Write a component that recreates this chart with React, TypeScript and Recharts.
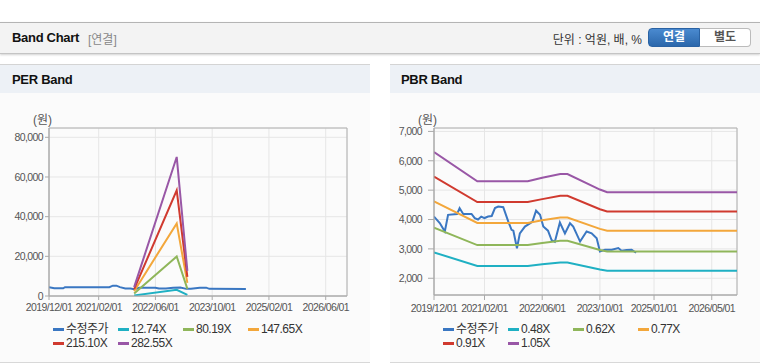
import React from 'react';
import { LineChart, Line, XAxis, YAxis, CartesianGrid, ReferenceArea } from 'recharts';

// months counted from 2019/12/01
const COLORS = ['#3a77c2', '#1fb0c3', '#8fb65a', '#f3a73b', '#d03a2f', '#9957a6'];

const perNames = ['수정주가', '12.74X', '80.19X', '147.65X', '215.10X', '282.55X'];
const pbrNames = ['수정주가', '0.48X', '0.62X', '0.77X', '0.91X', '1.05X'];

const perTickMonths = [0, 14, 30, 46, 62, 78];
const perTickLabels = ['2019/12/01', '2021/02/01', '2022/06/01', '2023/10/01', '2025/02/01', '2026/06/01'];
const pbrTickMonths = [0, 14, 30, 46, 61, 77];
const pbrTickLabels = ['2019/12/01', '2021/02/01', '2022/06/01', '2023/10/01', '2025/01/01', '2026/05/01'];

const perYTicks = [0, 20000, 40000, 60000, 80000];
const pbrYTicks = [2000, 3000, 4000, 5000, 6000, 7000];

// PER chart
const perPriceMonths = [0, 1.5, 4, 4.5, 17, 18, 19, 20, 21.5, 23, 24, 25.5, 30, 31, 33, 35, 37, 38.7, 40, 42.5, 44.3, 45.2, 55.5];
const perPrice = [4400, 3900, 3900, 4450, 4450, 5200, 5200, 4450, 3750, 3750, 3400, 4200, 4200, 3750, 3750, 4200, 4300, 3600, 3700, 4200, 4200, 3600, 3500];
const perBandMonths = [24, 36, 39];
const per1274 = [300, 3160, 570];
const per8019 = [1300, 19900, 3600];
const per14765 = [2400, 36600, 6600];
const per21510 = [3450, 53300, 9700];
const per28255 = [4500, 70100, 12700];

// PBR chart
const pbrPriceMonths = [0, 1.6, 3, 3.9, 6.4, 7.1, 8.1, 10.4, 11.3, 12.2, 13.1, 14, 15, 16, 16.9, 17.8, 19.2, 20.6, 21.5, 22, 23, 23.8, 25.2, 26.6, 27.3, 28.3, 29.4, 30.3, 31.6, 32.6, 33.5, 34.9, 36.3, 37.7, 38.6, 40.5, 42.3, 43.7, 45.1, 46, 47.4, 49.3, 51.1, 52, 53.4, 54.8, 56];
const pbrPrice = [4100, 3880, 3590, 4160, 4190, 4390, 4190, 4190, 4045, 4000, 4100, 4050, 4100, 4120, 4390, 4440, 4420, 3930, 3650, 3620, 3020, 3530, 3760, 3870, 3930, 4300, 4160, 3760, 3620, 3300, 3240, 3900, 3530, 3875, 3760, 3250, 3590, 3530, 3360, 2910, 2970, 2970, 3030, 2940, 2960, 2970, 2870];
const pbrBandMonths = [0, 12, 26, 30, 35, 37, 46, 48, 84];
const pbr048 = [2880, 2420, 2420, 2480, 2535, 2535, 2295, 2255, 2255];
const pbr062 = [3720, 3130, 3130, 3200, 3275, 3275, 2965, 2910, 2910];
const pbr077 = [4620, 3885, 3885, 3975, 4070, 4070, 3680, 3615, 3615];
const pbr091 = [5460, 4595, 4595, 4695, 4810, 4810, 4350, 4275, 4275];
const pbr105 = [6300, 5300, 5300, 5420, 5550, 5550, 5020, 4930, 4930];

const KEYS = ['p', 'b1', 'b2', 'b3', 'b4', 'b5'];

function buildRows(priceMonths: number[], price: number[], bandMonths: number[], bands: number[][]) {
  const map = new Map<number, any>();
  const row = (m: number) => {
    if (!map.has(m)) map.set(m, { m });
    return map.get(m);
  };
  priceMonths.forEach((m, i) => (row(m).p = price[i]));
  bandMonths.forEach((m, i) => bands.forEach((b, j) => (row(m)[KEYS[j + 1]] = b[i])));
  return Array.from(map.values()).sort((a, b) => a.m - b.m);
}

const perRows = buildRows(perPriceMonths, perPrice, perBandMonths, [per1274, per8019, per14765, per21510, per28255]);
const pbrRows = buildRows(pbrPriceMonths, pbrPrice, pbrBandMonths, [pbr048, pbr062, pbr077, pbr091, pbr105]);

const tickFont = "'Liberation Sans', Arial, sans-serif";
const uiFont = "'Liberation Sans', 'Noto Sans CJK KR', sans-serif";

function LegendBox({ names, left }: { names: string[]; left: number }) {
  return (
    <div style={{ position: 'absolute', left, top: 323, width: 270, display: 'flex', flexWrap: 'wrap' }}>
      {names.map((n, i) => (
        <div key={n} style={{ width: 65, height: 13.5, display: 'flex', alignItems: 'center', overflow: 'visible' }}>
          <span style={{ display: 'inline-block', width: 11, height: 3, background: COLORS[i], marginRight: 2 }} />
          <span style={{ fontFamily: "'Liberation Sans', 'Noto Sans CJK KR', sans-serif", fontSize: 12, lineHeight: '13px', letterSpacing: -0.5, color: '#333', whiteSpace: 'nowrap' }}>{n}</span>
        </div>
      ))}
    </div>
  );
}

function BandChart(props: {
  rows: any[]; names: string[]; tickMonths: number[]; tickLabels: string[];
  yTicks: number[]; yDomain: [number, number]; yWidth: number; xHeight: number;
  yTickSize: number; yTickMargin: number; xTickSize: number; xTickMargin: number;
}) {
  const { rows, names, tickMonths, tickLabels, yTicks, yDomain } = props;
  const tick = { fontSize: 10.5, fill: '#555', fontFamily: tickFont, letterSpacing: -0.6 };
  return (
    <LineChart width={370} height={222} data={rows} margin={{ top: 28, right: 23, bottom: 0, left: 0 }}>
      <CartesianGrid stroke="#e6e6e6" />
      <XAxis
        dataKey="m" type="number" domain={[0, 84]} ticks={tickMonths} allowDataOverflow
        tickFormatter={(v: number) => tickLabels[tickMonths.indexOf(v)] ?? ''}
        tick={tick} stroke="#aaa" height={props.xHeight} tickSize={props.xTickSize} tickMargin={props.xTickMargin}
        interval={0}
      />
      <YAxis
        type="number" domain={yDomain} ticks={yTicks} allowDataOverflow
        tickFormatter={(v: number) => v.toLocaleString('en-US')}
        tick={tick} stroke="#aaa" width={props.yWidth} tickSize={props.yTickSize} tickMargin={props.yTickMargin}
        interval={0}
      />
      <ReferenceArea x1={0} x2={84} y1={yDomain[0]} y2={yDomain[1]} fill="none" stroke="#b0b0b0" ifOverflow="visible" />
      {KEYS.map((k, i) => (
        <Line key={k} dataKey={k} name={names[i]} stroke={COLORS[i]} strokeWidth={2} dot={false}
          type="linear" connectNulls isAnimationActive={false} />
      ))}
    </LineChart>
  );
}

export default function App() {
  return (
    <div style={{ position: 'absolute', left: 0, top: 0, width: 760, height: 364, overflow: 'hidden', background: '#fff', fontFamily: uiFont }}>
      {/* top header */}
      <div style={{ position: 'absolute', left: 0, top: 22, width: 760, height: 30, background: '#f3f3f3', borderTop: '1px solid #b4b4b4', borderBottom: '1px solid #c4c4c4', boxShadow: '0 1px 2px rgba(0,0,0,0.18)' }}>
        <span style={{ position: 'absolute', left: 12, top: 7, fontSize: 13, fontWeight: 'bold', color: '#111', letterSpacing: -0.3 }}>Band Chart</span>
        <span style={{ position: 'absolute', left: 88, top: 7, fontSize: 12, color: '#888' }}>[연결]</span>
        <span style={{ position: 'absolute', right: 118, top: 7, fontSize: 12, color: '#333' }}>단위 : 억원, 배, %</span>
        <div style={{ position: 'absolute', left: 648, top: 5, width: 52, height: 19, borderRadius: '4px 0 0 4px', background: 'linear-gradient(#4a8ad0, #2b67ab)', border: '1px solid #2a62a3', boxSizing: 'border-box', color: '#fff', fontSize: 12, fontWeight: 'bold', textAlign: 'center', lineHeight: '17px' }}>연결</div>
        <div style={{ position: 'absolute', left: 700, top: 5, width: 51, height: 19, borderRadius: '0 4px 4px 0', background: '#fff', border: '1px solid #bbb', borderLeft: 'none', boxSizing: 'border-box', color: '#555', fontSize: 12, fontWeight: 'bold', textAlign: 'center', lineHeight: '17px' }}>별도</div>
      </div>

      {/* PER panel */}
      <div style={{ position: 'absolute', left: 0, top: 64, width: 370, height: 28, background: '#edf1f6', borderTop: '1px solid #d4d4d4' }}>
        <span style={{ position: 'absolute', left: 12, top: 7, fontSize: 13, fontWeight: 'bold', color: '#111', letterSpacing: -0.3 }}>PER Band</span>
      </div>
      <div style={{ position: 'absolute', left: 0, top: 93, width: 370, height: 269, background: '#fbfbfb', borderBottom: '1px solid #d8d8d8' }} />
      <span style={{ position: 'absolute', left: 33, top: 110, fontSize: 12, color: '#555' }}>(원)</span>
      <div style={{ position: 'absolute', left: 0, top: 100 }}>
        <BandChart rows={perRows} names={perNames} tickMonths={perTickMonths} tickLabels={perTickLabels}
          yTicks={perYTicks} yDomain={[0, 84700]} yWidth={49} xHeight={26}
          yTickSize={4} yTickMargin={2} xTickSize={4} xTickMargin={4} />
      </div>
      <LegendBox names={perNames} left={53} />

      {/* PBR panel */}
      <div style={{ position: 'absolute', left: 390, top: 64, width: 370, height: 28, background: '#edf1f6', borderTop: '1px solid #d4d4d4' }}>
        <span style={{ position: 'absolute', left: 11, top: 7, fontSize: 13, fontWeight: 'bold', color: '#111', letterSpacing: -0.3 }}>PBR Band</span>
      </div>
      <div style={{ position: 'absolute', left: 390, top: 93, width: 370, height: 269, background: '#fbfbfb', borderBottom: '1px solid #d8d8d8' }} />
      <span style={{ position: 'absolute', left: 418, top: 110, fontSize: 12, color: '#555' }}>(원)</span>
      <div style={{ position: 'absolute', left: 390, top: 100 }}>
        <BandChart rows={pbrRows} names={pbrNames} tickMonths={pbrTickMonths} tickLabels={pbrTickLabels}
          yTicks={pbrYTicks} yDomain={[1430, 7116]} yWidth={44} xHeight={27}
          yTickSize={6} yTickMargin={6} xTickSize={5} xTickMargin={5} />
      </div>
      <LegendBox names={pbrNames} left={443} />
    </div>
  );
}
